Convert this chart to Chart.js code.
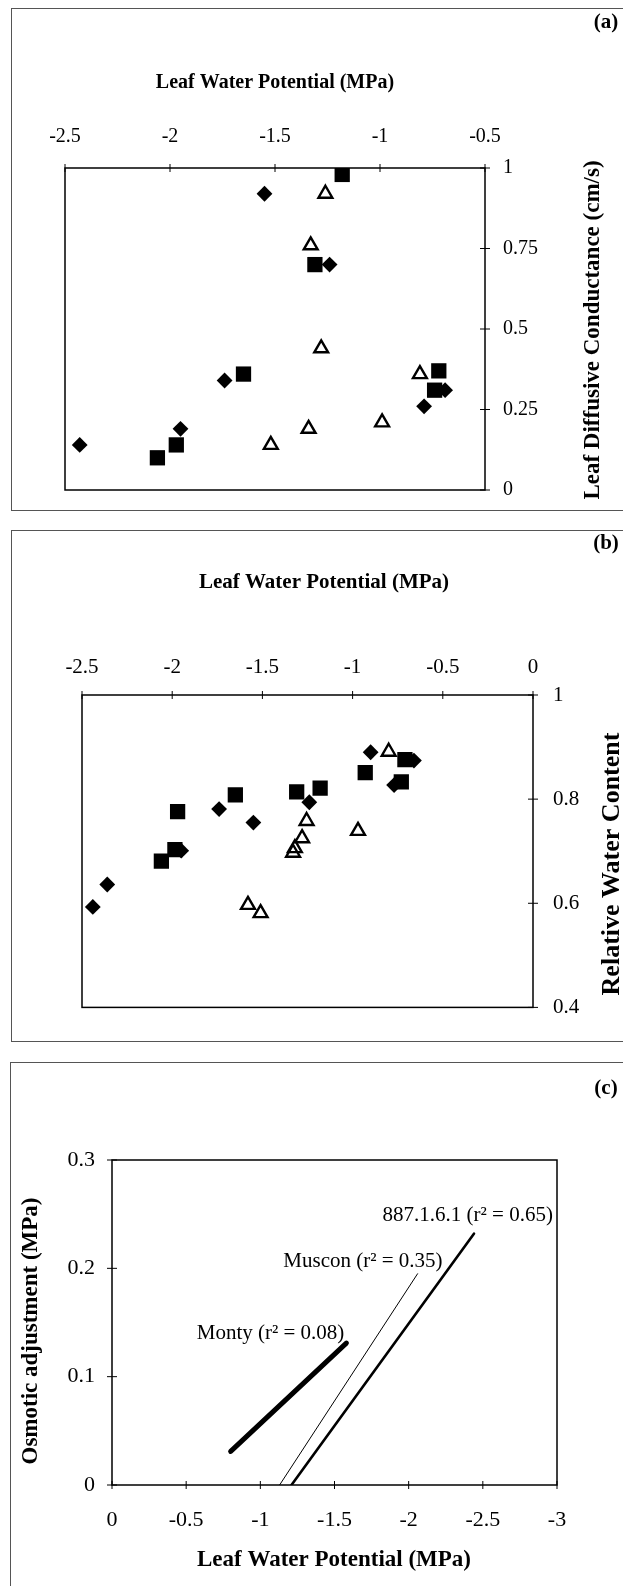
<!DOCTYPE html>
<html>
<head>
<meta charset="utf-8">
<script src="https://cdn.jsdelivr.net/npm/chart.js@4.4.1/dist/chart.umd.min.js"></script>
<style>
  html, body { margin: 0; padding: 0; background: #fff; }
  body { position: relative; width: 623px; height: 1586px; overflow: hidden; }
  .frame { position: absolute; border: 1.5px solid #555; width: 700px; }
  canvas { position: absolute; left: 0; }
</style>
</head>
<body>
<div class="frame" style="left:11px; top:8px; height:501px"></div>
<div class="frame" style="left:11px; top:530px; height:510px"></div>
<div class="frame" style="left:10px; top:1062px; height:600px"></div>
<canvas id="chartA" width="623" height="520" style="top:0"></canvas>
<canvas id="chartB" width="623" height="520" style="top:520px"></canvas>
<canvas id="chartC" width="623" height="546" style="top:1040px"></canvas>
<script>
// (a) leaf water potential (MPa) vs leaf diffusive conductance (cm/s)
const lwpA_diamond = [-2.43, -1.95, -1.74, -1.55, -1.24, -0.79, -0.69];
const condA_diamond = [0.14, 0.19, 0.34, 0.92, 0.70, 0.26, 0.31];
const lwpA_square = [-2.06, -1.97, -1.65, -1.31, -1.18, -0.74, -0.72];
const condA_square = [0.10, 0.14, 0.36, 0.70, 0.98, 0.31, 0.37];
const lwpA_triangle = [-1.52, -1.34, -1.28, -1.33, -1.26, -0.99, -0.81];
const condA_triangle = [0.14, 0.19, 0.44, 0.76, 0.92, 0.21, 0.36];
const xTicksA = [-2.5, -2, -1.5, -1, -0.5];
const yTicksA = [0, 0.25, 0.5, 0.75, 1];

// (b) leaf water potential (MPa) vs relative water content
const lwpB_diamond = [-2.44, -2.36, -1.95, -1.74, -1.55, -1.24, -0.90, -0.77, -0.66];
const rwcB_diamond = [0.593, 0.636, 0.701, 0.781, 0.755, 0.794, 0.89, 0.827, 0.874];
const lwpB_square = [-2.06, -1.985, -1.97, -1.65, -1.31, -1.18, -0.93, -0.73, -0.71];
const rwcB_square = [0.681, 0.703, 0.776, 0.808, 0.814, 0.821, 0.851, 0.833, 0.876];
const lwpB_triangle = [-1.58, -1.51, -1.33, -1.32, -1.28, -1.255, -0.97, -0.80];
const rwcB_triangle = [0.597, 0.581, 0.697, 0.706, 0.725, 0.758, 0.739, 0.891];
const xTicksB = [-2.5, -2, -1.5, -1, -0.5, 0];
const yTicksB = [0.4, 0.6, 0.8, 1];

// (c) fitted lines, osmotic adjustment (MPa) vs leaf water potential (MPa)
const lineNames = ['Monty', 'Muscon', '887.1.6.1'];
const lineR2 = ['0.08', '0.35', '0.65'];
const lwpC_monty = [-0.80, -1.58];
const oaC_monty = [0.031, 0.131];
const lwpC_muscon = [-1.13, -2.06];
const oaC_muscon = [0, 0.195];
const lwpC_887 = [-1.21, -2.44];
const oaC_887 = [0, 0.232];
const xTicksC = [0, -0.5, -1, -1.5, -2, -2.5, -3];
const yTicksC = [0, 0.1, 0.2, 0.3];

const SERIF = '"Liberation Serif", "Times New Roman", serif';
const pts = (xs, ys) => xs.map((x, i) => ({ x, y: ys[i] }));

const markers = {
  diamond: { pointStyle: 'rectRot', pointRadius: 7.9, pointBackgroundColor: '#000', pointBorderColor: '#000', pointBorderWidth: 0 },
  square: { pointStyle: 'rect', pointRadius: 10.8, pointBackgroundColor: '#000', pointBorderColor: '#000', pointBorderWidth: 0 },
  triangle: { pointStyle: 'triangle', pointRadius: 8, pointBackgroundColor: 'rgba(255,255,255,0)', pointBorderColor: '#000', pointBorderWidth: 2.4 }
};

function axis(position, min, max, tickValues, fontSize, pad, fitSize, reverse) {
  return {
    type: 'linear', position, min, max, reverse: !!reverse,
    afterBuildTicks: s => { s.ticks = tickValues.map(v => ({ value: v })); },
    afterFit: s => { if (s.isHorizontal()) s.height = fitSize; else s.width = fitSize; },
    ticks: {
      color: '#000', font: { family: SERIF, size: fontSize }, padding: pad,
      maxRotation: 0, autoSkip: false, callback: v => String(v)
    },
    grid: { display: false, drawTicks: false },
    border: { display: false }
  };
}

// box, crossing tick marks, titles and line notes
const decor = {
  id: 'decor',
  afterDraw(chart, args, opts) {
    const { ctx, chartArea: a } = chart;
    const xs = chart.scales.x, ys = chart.scales.y;
    ctx.save();
    ctx.strokeStyle = '#000';
    ctx.lineWidth = 1.5;
    ctx.strokeRect(a.left, a.top, a.right - a.left, a.bottom - a.top);
    ctx.lineWidth = 1;
    ctx.beginPath();
    const xEdge = xs.position === 'top' ? a.top : a.bottom;
    xs.ticks.forEach(t => {
      const p = xs.getPixelForValue(t.value);
      ctx.moveTo(p, xEdge - 4); ctx.lineTo(p, xEdge + 4);
    });
    const yEdge = ys.position === 'right' ? a.right : a.left;
    ys.ticks.forEach(t => {
      const p = ys.getPixelForValue(t.value);
      ctx.moveTo(yEdge - 5, p); ctx.lineTo(yEdge + 5, p);
    });
    ctx.stroke();

    ctx.fillStyle = '#000';
    ctx.textBaseline = 'middle';
    (opts.texts || []).forEach(t => {
      ctx.save();
      ctx.font = (t.bold ? 'bold ' : '') + t.size + 'px ' + SERIF;
      ctx.textAlign = t.align || 'center';
      ctx.translate(t.x, t.y);
      if (t.rot) ctx.rotate(t.rot);
      ctx.fillText(t.text, 0, 0);
      ctx.restore();
    });

    (opts.notes || []).forEach(n => {
      const meta = chart.getDatasetMeta(n.dataset);
      const end = meta.data[meta.data.length - 1];
      ctx.font = n.size + 'px ' + SERIF;
      ctx.textAlign = 'right';
      ctx.fillText(n.text, end.x + n.dx, end.y + n.dy);
    });
    ctx.restore();
  }
};

Chart.defaults.animation = false;
Chart.defaults.font.family = SERIF;

// (a)
new Chart(document.getElementById('chartA'), {
  type: 'scatter',
  data: {
    datasets: [
      { label: 'filled diamond', data: pts(lwpA_diamond, condA_diamond), ...markers.diamond },
      { label: 'filled square', data: pts(lwpA_square, condA_square), ...markers.square },
      { label: 'open triangle', data: pts(lwpA_triangle, condA_triangle), ...markers.triangle }
    ]
  },
  options: {
    responsive: false,
    events: [],
    layout: { padding: { left: 65, right: 38, top: 0, bottom: 27 } },
    scales: {
      x: axis('top', -2.5, -0.5, xTicksA, 20, 19, 168),
      y: axis('right', 0, 1, yTicksA, 20, 18, 100)
    },
    plugins: {
      legend: { display: false },
      tooltip: { enabled: false },
      decor: {
        texts: [
          { text: 'Leaf Water Potential (MPa)', x: 275, y: 83, size: 20, bold: true },
          { text: '(a)', x: 606, y: 23, size: 21, bold: true },
          { text: 'Leaf Diffusive Conductance (cm/s)', x: 593, y: 330, size: 23, bold: true, rot: -Math.PI / 2 }
        ]
      }
    }
  },
  plugins: [decor]
});

// (b)
new Chart(document.getElementById('chartB'), {
  type: 'scatter',
  data: {
    datasets: [
      { label: 'filled diamond', data: pts(lwpB_diamond, rwcB_diamond), ...markers.diamond },
      { label: 'filled square', data: pts(lwpB_square, rwcB_square), ...markers.square },
      { label: 'open triangle', data: pts(lwpB_triangle, rwcB_triangle), ...markers.triangle }
    ]
  },
  options: {
    responsive: false,
    events: [],
    layout: { padding: { left: 82, right: 10, top: 0, bottom: 15 } },
    scales: {
      x: axis('top', -2.5, 0, xTicksB, 21, 15, 175),
      y: axis('right', 0.4, 1, yTicksB, 21, 20, 80)
    },
    plugins: {
      legend: { display: false },
      tooltip: { enabled: false },
      decor: {
        texts: [
          { text: 'Leaf Water Potential (MPa)', x: 324, y: 63, size: 21, bold: true },
          { text: '(b)', x: 606, y: 24, size: 21, bold: true },
          { text: 'Relative Water Content', x: 612, y: 344, size: 26, bold: true, rot: -Math.PI / 2 }
        ]
      }
    }
  },
  plugins: [decor]
});

// (c)
const lineStyle = (w) => ({ showLine: true, borderColor: '#000', borderWidth: w, pointRadius: 0, borderCapStyle: 'round' });
new Chart(document.getElementById('chartC'), {
  type: 'scatter',
  data: {
    datasets: [
      { label: lineNames[0], data: pts(lwpC_monty, oaC_monty), ...lineStyle(5) },
      { label: lineNames[1], data: pts(lwpC_muscon, oaC_muscon), ...lineStyle(1) },
      { label: lineNames[2], data: pts(lwpC_887, oaC_887), ...lineStyle(2.6) }
    ]
  },
  options: {
    responsive: false,
    events: [],
    layout: { padding: { left: 0, right: 66, top: 120, bottom: 0 } },
    scales: {
      x: axis('bottom', -3, 0, xTicksC, 22, 22, 101, true),
      y: axis('left', 0, 0.3, yTicksC, 22, 17, 112)
    },
    plugins: {
      legend: { display: false },
      tooltip: { enabled: false },
      decor: {
        texts: [
          { text: '(c)', x: 606, y: 49, size: 21, bold: true },
          { text: 'Osmotic adjustment (MPa)', x: 31, y: 291, size: 23, bold: true, rot: -Math.PI / 2 },
          { text: 'Leaf Water Potential (MPa)', x: 334, y: 520, size: 23, bold: true }
        ],
        notes: [
          { dataset: 0, text: lineNames[0] + ' (r\u00B2 = ' + lineR2[0] + ')', dx: -2, dy: -10, size: 21 },
          { dataset: 1, text: lineNames[1] + ' (r\u00B2 = ' + lineR2[1] + ')', dx: 25, dy: -12, size: 21 },
          { dataset: 2, text: lineNames[2] + ' (r\u00B2 = ' + lineR2[2] + ')', dx: 79, dy: -18, size: 21 }
        ]
      }
    }
  },
  plugins: [decor]
});
</script>
</body>
</html>
